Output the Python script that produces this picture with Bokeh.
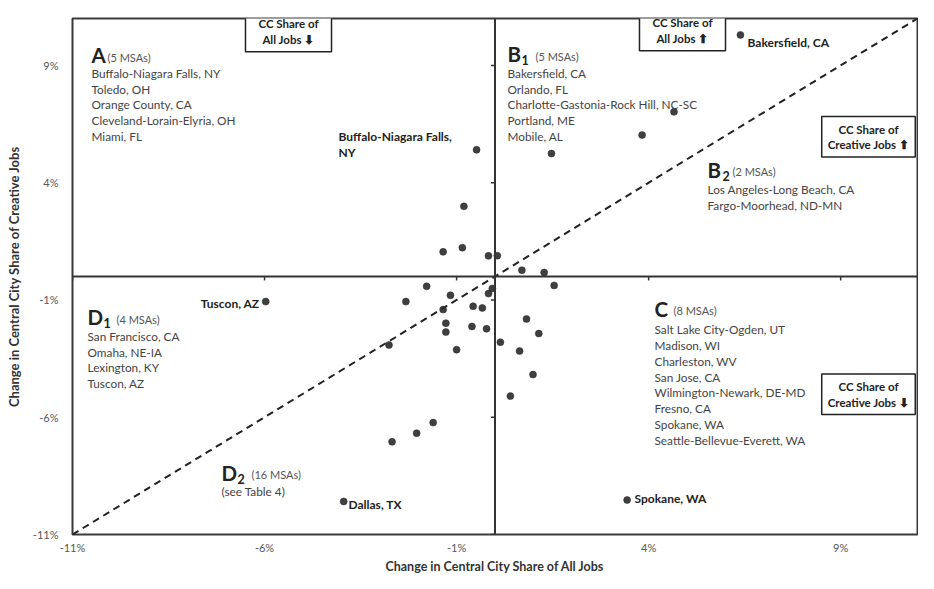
from bokeh.plotting import figure
from bokeh.models import Label, Span, FixedTicker, Range1d, Title
from bokeh.embed import file_html
from bokeh.resources import INLINE

# ---------------- data ----------------
axis_min, axis_max = -11, 11
axis_ticks = [-11, -6, -1, 4, 9]
axis_tick_labels = ["-11%", "-6%", "-1%", "4%", "9%"]
x_title = "Change in Central City Share of All Jobs"
y_title = "Change in Central City Share of Creative Jobs"

# change in central-city share of all jobs (x) and of creative jobs (y), in %
cc_all_jobs_change = [
    -0.48, -0.81, -1.35, -0.85, -0.17,            # A
    6.39, 4.66, 3.83, 1.47, 0.06,                 # B1
    0.70, 1.28,                                   # B2
    1.54, 0.82, 1.14, 0.14, 0.64, 0.99, 0.40, 3.44,   # C
    -5.97, -2.32, -1.78, -1.16,                   # D1
    -0.17, -0.07, -1.35, -0.57, -0.33, -1.28, -1.28, -0.60,
    -0.22, -2.76, -1.00, -1.61, -2.04, -2.68, -3.94,  # D2
]
cc_creative_jobs_change = [
    5.40, 2.99, 1.05, 1.23, 0.88,
    10.30, 7.02, 6.03, 5.24, 0.89,
    0.27, 0.17,
    -0.38, -1.81, -2.43, -2.80, -3.18, -4.18, -5.10, -9.53,
    -1.07, -1.07, -0.42, -0.80,
    -0.73, -0.51, -1.41, -1.27, -1.34, -1.99, -2.37, -2.13,
    -2.23, -2.92, -3.12, -6.23, -6.68, -7.05, -9.59,
]

quadrant_a = ["Buffalo-Niagara Falls, NY", "Toledo, OH", "Orange County, CA",
              "Cleveland-Lorain-Elyria, OH", "Miami, FL"]
quadrant_b1 = ["Bakersfield, CA", "Orlando, FL", "Charlotte-Gastonia-Rock Hill, NC-SC",
               "Portland, ME", "Mobile, AL"]
quadrant_b2 = ["Los Angeles-Long Beach, CA", "Fargo-Moorhead, ND-MN"]
quadrant_c = ["Salt Lake City-Ogden, UT", "Madison, WI", "Charleston, WV", "San Jose, CA",
              "Wilmington-Newark, DE-MD", "Fresno, CA", "Spokane, WA",
              "Seattle-Bellevue-Everett, WA"]
quadrant_d1 = ["San Francisco, CA", "Omaha, NE-IA", "Lexington, KY", "Tuscon, AZ"]

FONT = "Lato"

# ---------------- figure ----------------
W, H = 918, 573
p = figure(width=W, height=H, x_range=Range1d(axis_min, axis_max),
           y_range=Range1d(axis_min, axis_max), output_backend="svg",
           toolbar_location=None, min_border_left=72, min_border_right=1,
           min_border_top=18, min_border_bottom=36)
p.xgrid.visible = False
p.ygrid.visible = False
p.outline_line_color = "#3a3a3a"
p.outline_line_width = 2
p.background_fill_color = "white"
p.border_fill_color = "white"

for ax in (p.xaxis, p.yaxis):
    ax.ticker = FixedTicker(ticks=axis_ticks)
    ax.major_label_overrides = dict(zip(axis_ticks, axis_tick_labels))
    ax.major_tick_line_color = None
    ax.minor_tick_line_color = None
    ax.axis_line_color = None
    ax.major_label_text_font = FONT
    ax.major_label_text_font_size = "11px"
    ax.major_label_text_color = "#555"
    ax.axis_label_text_font = FONT
    ax.axis_label_text_font_size = "13px"
    ax.axis_label_text_font_style = "bold"
    ax.axis_label_text_color = "#333"

p.yaxis.axis_label = y_title
p.xaxis.major_label_standoff = 0
p.yaxis.major_label_standoff = 8
p.yaxis.axis_label_standoff = 8

# x-axis title as a title panel under the axis
p.add_layout(Title(text=x_title, align="center", text_font=FONT, text_font_size="12.5px",
                   text_font_style="bold", text_color="#333", standoff=0, offset=0),
             "below")

# reference-picture pixel -> data helpers, used only to place annotations
RL, RR, RT, RB = 72, 917, 18, 537


def dx(px):
    return axis_min + (px - RL) * (axis_max - axis_min) / (RR - RL)


def dy(py):
    return axis_max - (py - RT) * (axis_max - axis_min) / (RB - RT)


# centre axes
p.add_layout(Span(location=0, dimension="width", line_color="#333", line_width=2))
p.add_layout(Span(location=0, dimension="height", line_color="#333", line_width=2))
tick_len_y = 4 * (axis_max - axis_min) / (RB - RT)
tick_len_x = 4 * (axis_max - axis_min) / (RR - RL)
p.segment(x0=axis_ticks, y0=[0] * len(axis_ticks), x1=axis_ticks,
          y1=[-tick_len_y] * len(axis_ticks), line_color="#333", line_width=1.5)
p.segment(x0=[0] * len(axis_ticks), y0=axis_ticks, x1=[-tick_len_x] * len(axis_ticks),
          y1=axis_ticks, line_color="#333", line_width=1.5)

# diagonal
p.line(x=[axis_min, axis_max], y=[axis_min, axis_max], line_color="#222",
       line_width=2, line_dash="7 5")

# points
p.scatter(x=cc_all_jobs_change, y=cc_creative_jobs_change, size=7,
          fill_color="#2a2a2a", line_color="#2a2a2a", line_alpha=0.5, fill_alpha=0.9)


def lab(text, px, py, size, bold=False, color="#444", align="left", baseline="middle"):
    p.add_layout(Label(x=dx(px), y=dy(py), text=text, text_font=FONT,
                       text_font_size=f"{size}px",
                       text_font_style="bold" if bold else "normal",
                       text_color=color, text_align=align, text_baseline=baseline))


def lst(items, px, py0, step=16):
    for i, t in enumerate(items):
        lab(t, px, py0 + i * step, 11.8)


def head(letter, px, cy, count, count_px, count_cy, sub=None, sub_px=0, sub_cy=0):
    lab(letter, px, cy, 20.5, bold=True, color="#222")
    if sub:
        lab(sub, sub_px, sub_cy, 12.5, bold=True, color="#222")
    lab(count, count_px, count_cy, 11, color="#555")


# quadrant A
head("A", 91, 54.5, "(5 MSAs)", 107, 57)
lst(quadrant_a, 91, 73)
# quadrant B1
head("B", 507, 53.5, "(5 MSAs)", 535, 56, "1", 521, 60)
lst(quadrant_b1, 507, 73)
# quadrant B2
head("B", 707, 170, "(2 MSAs)", 732, 172, "2", 722, 176)
lst(quadrant_b2, 707, 190, step=16.5)
# quadrant C
head("C", 654, 310, "(8 MSAs)", 673, 312)
lst(quadrant_c, 654, 331, step=15.9)
# quadrant D1
head("D", 87, 318, "(4 MSAs)", 116, 321, "1", 103, 324)
lst(quadrant_d1, 87, 338, step=15.7)
# quadrant D2
head("D", 221, 475, "(16 MSAs)", 251, 477, "2", 237, 481)
lab("(see Table 4)", 221, 494, 11.8)

# point call-outs
lab("Buffalo-Niagara Falls,", 338, 137, 12, bold=True, color="#222")
lab("NY", 338, 153, 12, bold=True, color="#222")
lab("Bakersfield, CA", 747, 42, 12, bold=True, color="#222")
lab("Tuscon, AZ", 259, 305, 12, bold=True, color="#222", align="right")
lab("Dallas, TX", 348, 507, 12, bold=True, color="#222")
lab("Spokane, WA", 634, 501, 12, bold=True, color="#222")


def box(text, px, py, pad):
    common = dict(x=dx(px), y=dy(py), text=text, text_font=FONT, text_font_size="11.5px",
                  text_font_style="bold", text_align="center", text_baseline="middle",
                  padding=pad)
    p.add_layout(Label(x_offset=2, y_offset=-2, text_alpha=0.0,
                       background_fill_color="#9a9a9a", background_fill_alpha=0.7,
                       **common))
    p.add_layout(Label(text_color="#222", background_fill_color="white",
                       border_line_color="#222", border_line_width=1.5, **common))


box("CC Share of\nAll Jobs \u2b07", 288, 31, (13, 6))
box("CC Share of\nAll Jobs \u2b06", 682, 30, (13, 6))
box("CC Share of\nCreative Jobs \u2b06", 868, 137, (6, 6))
box("CC Share of\nCreative Jobs \u2b07", 868, 396, (6, 6))

open("out.html", "w").write(file_html(p, INLINE))
